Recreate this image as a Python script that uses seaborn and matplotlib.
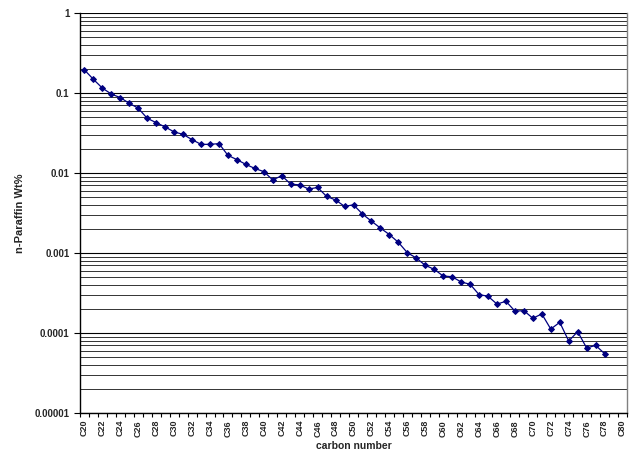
import matplotlib
matplotlib.use("Agg")
import matplotlib.pyplot as plt
import seaborn as sns
import pandas as pd
import numpy as np
from matplotlib.ticker import FixedLocator, LogLocator, NullFormatter, FixedFormatter

carbon = list(range(20, 79))
wt_pct = [0.194, 0.148, 0.115, 0.097, 0.0875, 0.0743, 0.0645, 0.0482, 0.0426, 0.0376,
          0.0326, 0.0304, 0.0261, 0.0228, 0.0228, 0.0233, 0.0166, 0.0147, 0.0128, 0.0114,
          0.0104, 0.00818, 0.00927, 0.00725, 0.0071, 0.0063, 0.0066, 0.0051, 0.0046, 0.00383,
          0.0040, 0.00307, 0.0025, 0.00205, 0.0017, 0.00136, 0.00101, 0.000866, 0.000702, 0.000625,
          0.000516, 0.000505, 0.000434, 0.000407, 0.000302, 0.000288, 0.00023, 0.000249, 0.000188, 0.00019,
          0.000153, 0.000173, 0.000112, 0.000136, 0.0000794, 0.000104, 0.0000649, 0.0000701, 0.0000552]
tick_carbons = list(range(20, 81, 2))
tick_labels = [f"C{c}" for c in tick_carbons]
y_ticks = [1e-5, 1e-4, 1e-3, 1e-2, 1e-1, 1]
y_labels = ["0.00001", "0.0001", "0.001", "0.01", "0.1", "1"]

df = pd.DataFrame({"carbon": carbon, "wt": wt_pct})

sns.set_style("white")
plt.rcParams['font.family'] = ['Liberation Sans', 'DejaVu Sans']

fig = plt.figure(figsize=(6.35, 4.54), dpi=100)
ax = fig.add_axes([80/635, 1-413/454, 547/635, 400/454])

ax.set_yscale("log")
ax.set_ylim(1e-5, 1)
ax.set_xlim(19.5, 80.5)

ax.yaxis.set_major_locator(FixedLocator(y_ticks))
ax.yaxis.set_major_formatter(FixedFormatter(y_labels))
ax.yaxis.set_minor_locator(LogLocator(base=10, subs=np.arange(2, 10)))
ax.yaxis.set_minor_formatter(NullFormatter())
ax.grid(True, which="major", axis="y", color="black", lw=0.8)
ax.grid(True, which="minor", axis="y", color="#333333", lw=0.7)
ax.set_axisbelow(True)

sns.lineplot(data=df, x="carbon", y="wt", ax=ax, color="#000080", lw=0.9,
             marker="D", markersize=3.0, markeredgecolor="#000080", markerfacecolor="#000080")

ax.xaxis.set_major_locator(FixedLocator(tick_carbons))
ax.xaxis.set_major_formatter(FixedFormatter(tick_labels))
ax.xaxis.set_minor_locator(FixedLocator(np.arange(19.5, 81, 1)))
ax.tick_params(axis="x", which="major", length=0, labelsize=6.5, rotation=90, pad=5)
ax.tick_params(axis="x", which="minor", length=3, width=0.8, color="black", direction="out", bottom=True)
ax.tick_params(axis="y", which="major", length=4, width=0.8, color="black", direction="out", left=True, labelsize=7)
ax.tick_params(axis="y", which="minor", length=0)
for lab in ax.get_xticklabels() + ax.get_yticklabels():
    lab.set_fontweight("bold")

for s in ["left", "bottom"]:
    ax.spines[s].set_color("black")
    ax.spines[s].set_linewidth(1.0)
ax.spines["right"].set_color("#808080")
ax.spines["right"].set_linewidth(1.0)
ax.spines["top"].set_visible(False)

ax.set_xlabel("carbon number", fontsize=7.5, fontweight="bold", labelpad=3)
ax.set_ylabel("n-Paraffin Wt%", fontsize=8, fontweight="bold", labelpad=7)

fig.savefig("out.png", dpi=100)
